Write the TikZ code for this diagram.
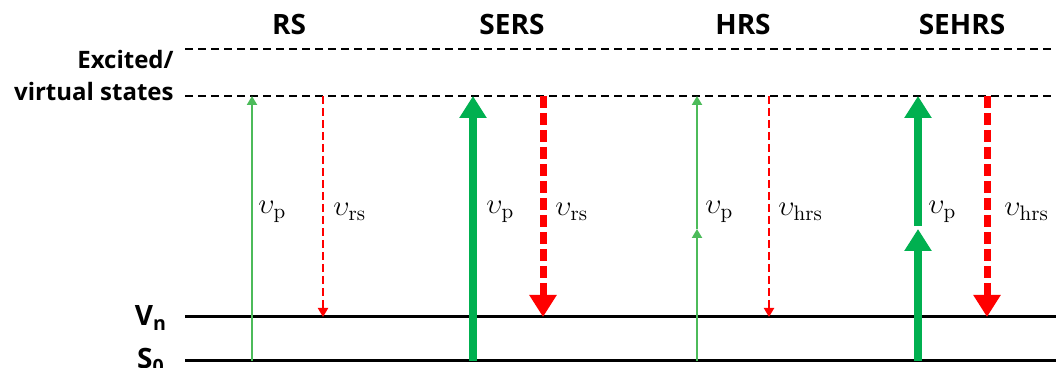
\documentclass[tikz,border=0pt]{standalone}
\usepackage{fontspec}
\setsansfont{Open Sans}
\usetikzlibrary{arrows.meta}
\definecolor{gthin}{RGB}{76,187,90}
\definecolor{gthick}{RGB}{0,176,80}
\tikzset{
  lvl/.style={line width=1.5pt},
  vstate/.style={line width=1pt,dash pattern=on 4pt off 2.5pt},
  ttl/.style={font=\sffamily\bfseries\fontsize{14}{16}\selectfont},
  lbl/.style={font=\sffamily\bfseries\fontsize{12}{15}\selectfont,inner sep=0pt},
  nu/.style={font=\fontsize{15}{18}\selectfont,anchor=west,inner sep=0pt},
  pumpthin/.style={draw=gthin,line width=1pt,-{Triangle[width=5pt,length=4.5pt]}},
  pumpthick/.style={draw=gthick,line width=4pt,-{Triangle[width=13pt,length=11pt]}},
  emthin/.style={draw=red,line width=1pt,dash pattern=on 4pt off 2pt,-{Triangle[width=5pt,length=4.5pt]}},
  emthick/.style={draw=red,line width=3.5pt,dash pattern=on 6pt off 2.5pt,-{Triangle[width=13pt,length=11pt]}}
}
\begin{document}
\begin{tikzpicture}[x=0.5pt,y=-0.5pt]
\useasboundingbox (0,0) rectangle (1056,368);
% levels
\draw[vstate] (185,49) coordinate (e1) -- (1056,49) coordinate (e2);
\draw[vstate] (185,96) coordinate (v1) -- (1056,96) coordinate (v2);
\draw[lvl] (185,317) coordinate (n1) -- (1056,317) coordinate (n2);
\draw[lvl] (185,361) coordinate (g1) -- (1056,361) coordinate (g2);
\node[lbl,anchor=east] (exc) at (174,60) {Excited/};
\node[lbl,anchor=east] (virt) at (174,92) {virtual states};
\node[lbl,font=\sffamily\bfseries\fontsize{14}{16}\selectfont] (vn) at (151,318) {V\textsubscript{n}};
\node[lbl,font=\sffamily\bfseries\fontsize{14}{16}\selectfont] (s0) at (151,361) {S\textsubscript{0}};
% titles
\node[ttl] (tRS) at (289,25) {RS};\node[ttl] (tSERS) at (512,25) {SERS};
\node[ttl] (tHRS) at (743,25) {HRS};\node[ttl] (tSEHRS) at (962,25) {SEHRS};
% RS
\coordinate (rsA) at (252,361);\coordinate (rsB) at (252,96);\coordinate (rsC) at (323,96);\coordinate (rsD) at (323,317);
\draw[pumpthin] (rsA)--(rsB);\draw[emthin] (rsC)--(rsD);
\node[nu] (rsP) at (258,212) {$\upsilon_{\mathrm{p}}$};\node[nu] (rsS) at (333,212) {$\upsilon_{\mathrm{rs}}$};
% SERS
\coordinate (seA) at (473,361);\coordinate (seB) at (473,96);\coordinate (seC) at (543,96);\coordinate (seD) at (543,317);
\draw[pumpthick] (seA)--(seB);\draw[emthick] (seC)--(seD);
\node[nu] (seP) at (486,212) {$\upsilon_{\mathrm{p}}$};\node[nu] (seS) at (555,212) {$\upsilon_{\mathrm{rs}}$};
% HRS
\coordinate (hrA) at (697,361);\coordinate (hrM) at (697,229);\coordinate (hrB) at (697,96);\coordinate (hrC) at (769,96);\coordinate (hrD) at (769,317);
\draw[pumpthin] (hrA)--(hrM);\draw[pumpthin] (hrM)--(hrB);\draw[emthin] (hrC)--(hrD);
\node[nu] (hrP) at (705,212) {$\upsilon_{\mathrm{p}}$};\node[nu] (hrS) at (778,212) {$\upsilon_{\mathrm{hrs}}$};
% SEHRS
\coordinate (shA) at (918,361);\coordinate (shM) at (918,229);\coordinate (shN) at (918,226);\coordinate (shB) at (918,96);\coordinate (shC) at (987,96);\coordinate (shD) at (987,317);
\draw[pumpthick] (shA)--(shM);\draw[pumpthick] (shN)--(shB);\draw[emthick] (shC)--(shD);
\node[nu] (shP) at (928,212) {$\upsilon_{\mathrm{p}}$};\node[nu] (shS) at (1004,212) {$\upsilon_{\mathrm{hrs}}$};
\end{tikzpicture}
\end{document}
